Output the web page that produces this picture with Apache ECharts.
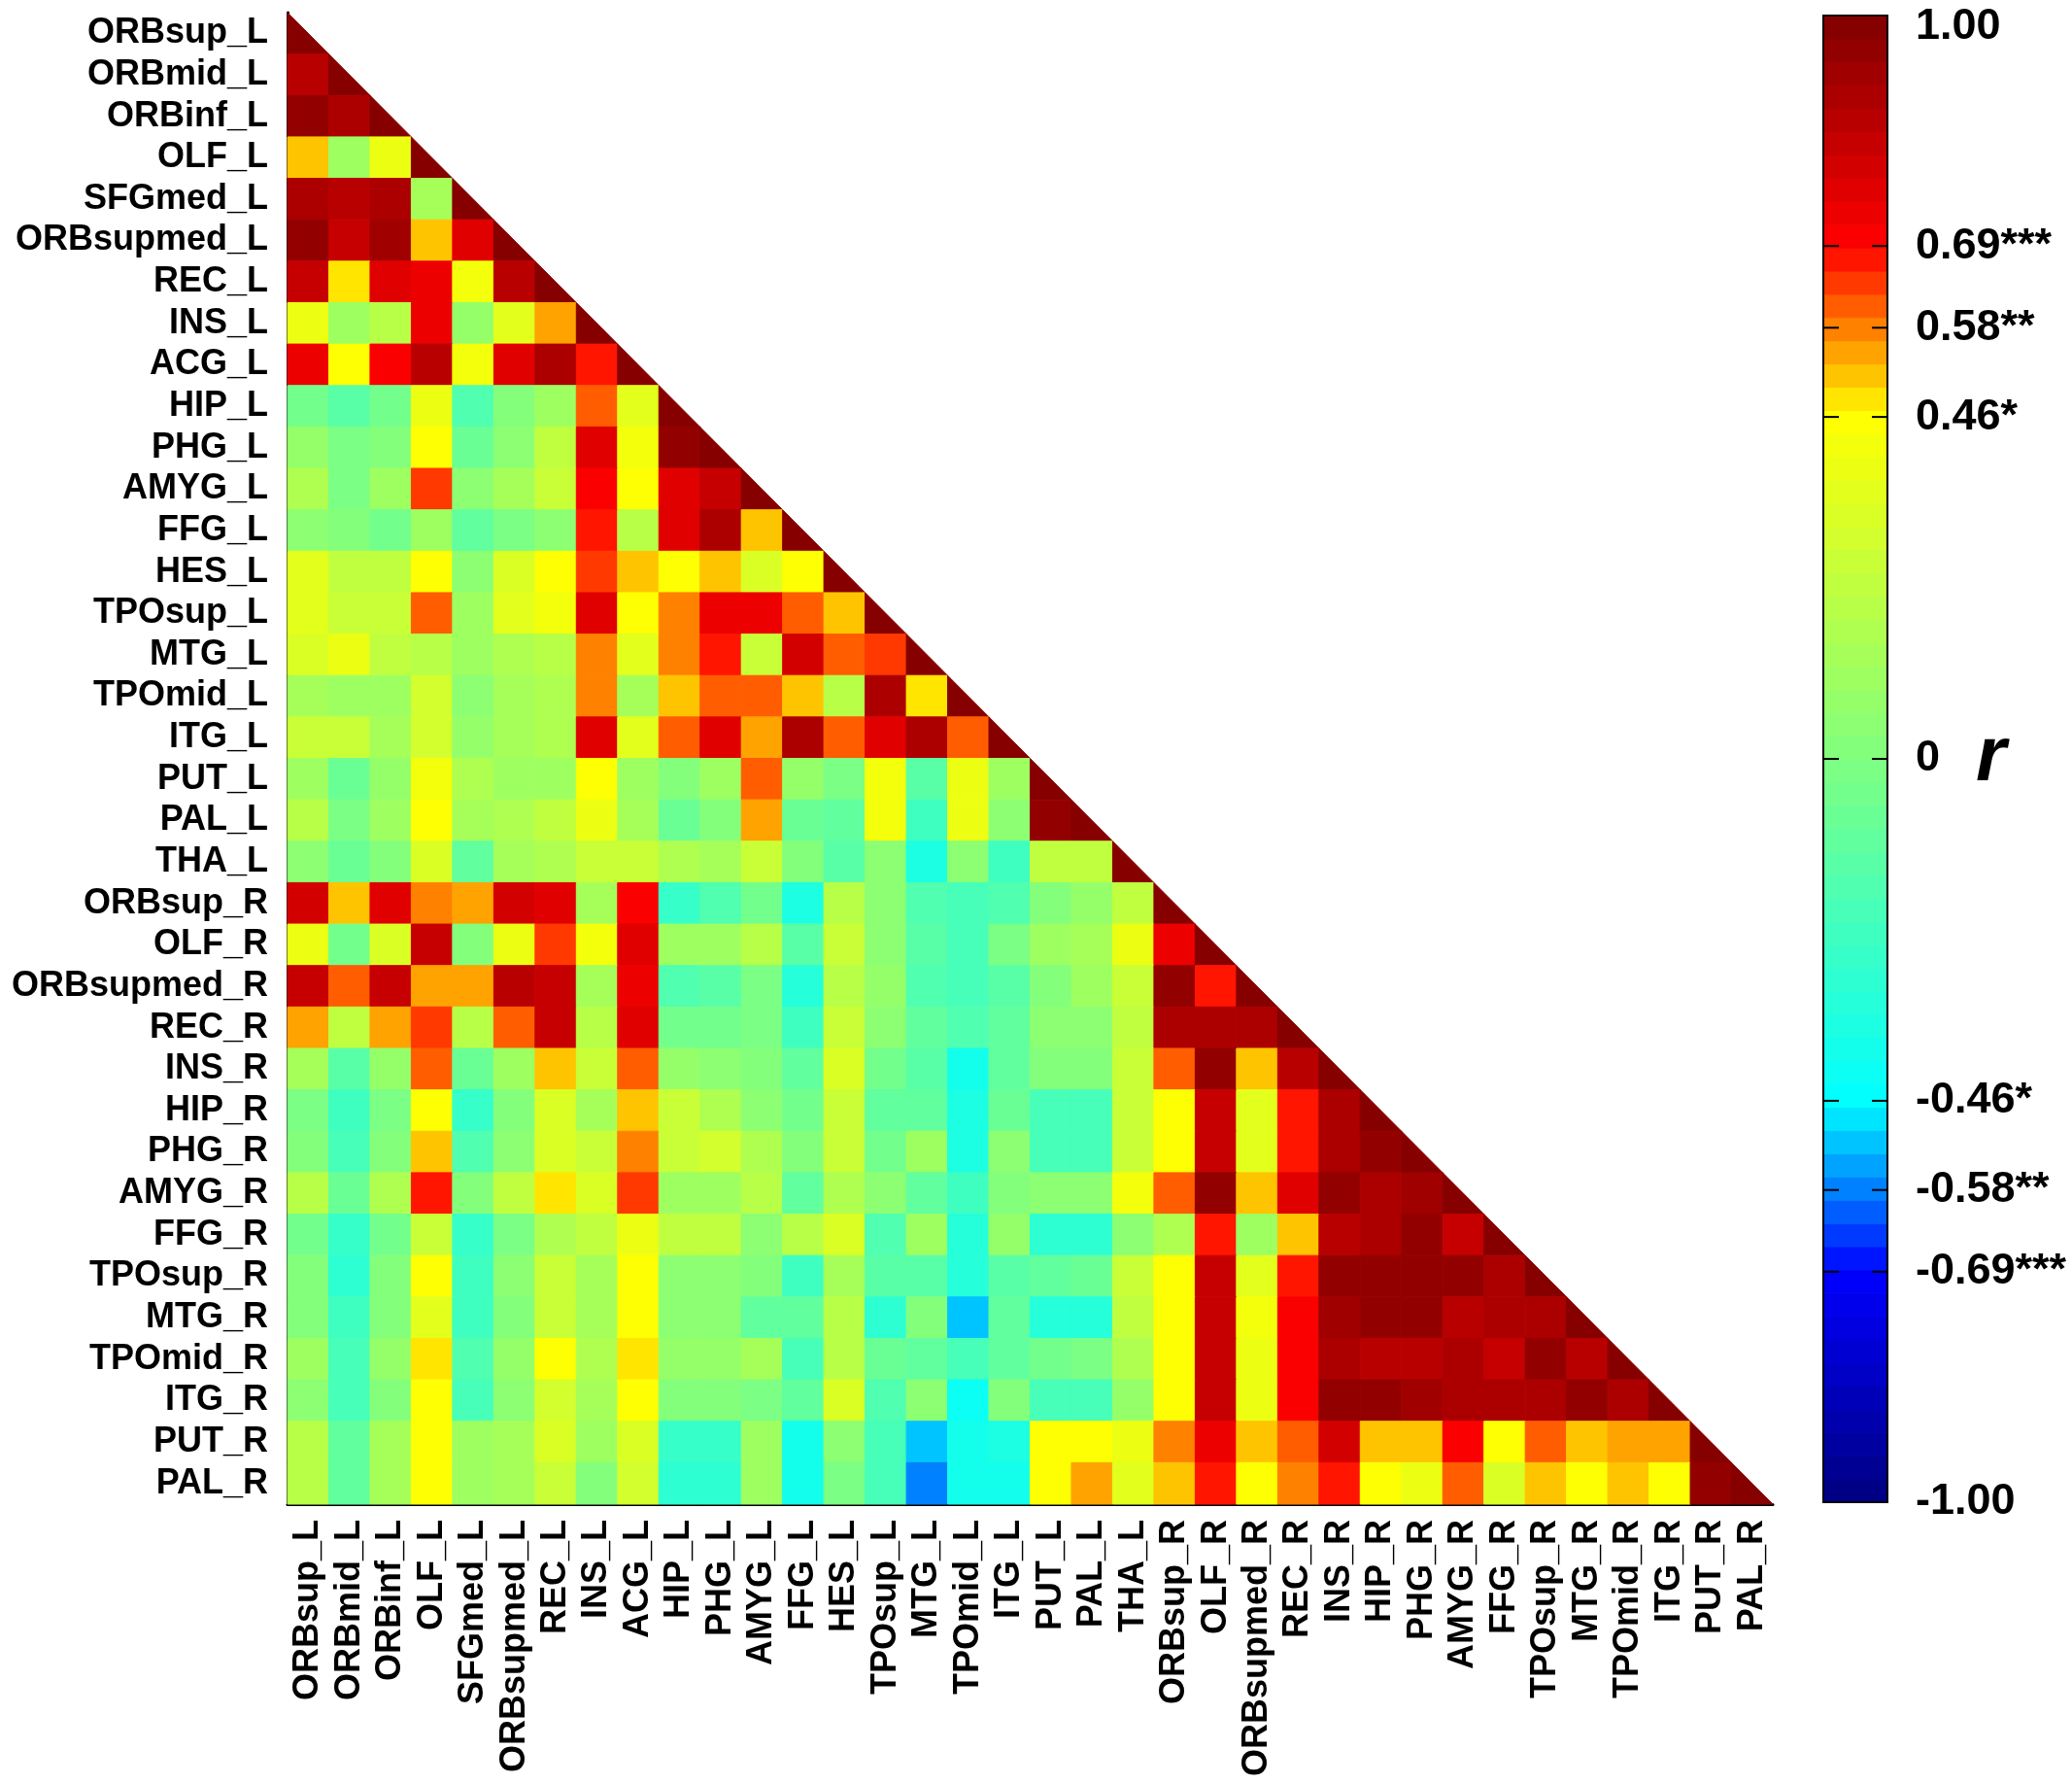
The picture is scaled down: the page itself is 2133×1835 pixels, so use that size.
<!DOCTYPE html>
<html lang="en">
<head>
    <meta charset="UTF-8">
    <title>Correlation matrix</title>
    <script type="text/javascript" src="https://cdn.jsdelivr.net/npm/echarts@6.0.0/dist/echarts.min.js"></script>
    <style>
        html, body { margin: 0; padding: 0; background: #fff; }
        #main { width: 2133px; height: 1835px; }
    </style>
</head>
<body>
<div id="main"></div>
<script type="text/javascript">
    // region names (rows top->bottom, columns left->right)
    var regions = ['ORBsup_L', 'ORBmid_L', 'ORBinf_L', 'OLF_L', 'SFGmed_L', 'ORBsupmed_L', 'REC_L', 'INS_L',
        'ACG_L', 'HIP_L', 'PHG_L', 'AMYG_L', 'FFG_L', 'HES_L', 'TPOsup_L', 'MTG_L', 'TPOmid_L', 'ITG_L',
        'PUT_L', 'PAL_L', 'THA_L', 'ORBsup_R', 'OLF_R', 'ORBsupmed_R', 'REC_R', 'INS_R', 'HIP_R', 'PHG_R',
        'AMYG_R', 'FFG_R', 'TPOsup_R', 'MTG_R', 'TPOmid_R', 'ITG_R', 'PUT_R', 'PAL_R'];

    // lower triangle: r of each row region with the columns before it
    var ORBsup_L = [];
    var ORBmid_L = [0.85];
    var ORBinf_L = [0.95, 0.88];
    var OLF_L = [0.50, 0.12, 0.38];
    var SFGmed_L = [0.88, 0.86, 0.89, 0.15];
    var ORBsupmed_L = [0.95, 0.82, 0.92, 0.50, 0.78];
    var REC_L = [0.82, 0.49, 0.78, 0.73, 0.42, 0.85];
    var INS_L = [0.40, 0.12, 0.20, 0.73, 0.09, 0.37, 0.54];
    var ACG_L = [0.74, 0.44, 0.70, 0.86, 0.42, 0.78, 0.89, 0.66];
    var HIP_L = [-0.06, -0.14, -0.06, 0.40, -0.17, 0.00, 0.12, 0.62, 0.37];
    var PHG_L = [0.08, -0.03, 0.00, 0.46, -0.08, 0.06, 0.23, 0.78, 0.42, 0.94];
    var AMYG_L = [0.18, -0.03, 0.12, 0.65, 0.05, 0.14, 0.25, 0.70, 0.44, 0.75, 0.82];
    var FFG_L = [0.05, 0.00, -0.06, 0.12, -0.12, -0.03, 0.05, 0.67, 0.20, 0.76, 0.88, 0.53];
    var HES_L = [0.37, 0.23, 0.23, 0.46, 0.05, 0.33, 0.44, 0.63, 0.50, 0.46, 0.50, 0.33, 0.46];
    var TPOsup_L = [0.37, 0.27, 0.27, 0.60, 0.12, 0.37, 0.42, 0.78, 0.46, 0.57, 0.72, 0.72, 0.60, 0.50];
    var MTG_L = [0.33, 0.40, 0.23, 0.20, 0.12, 0.18, 0.20, 0.57, 0.37, 0.57, 0.67, 0.27, 0.80, 0.60, 0.65];
    var TPOmid_L = [0.14, 0.12, 0.12, 0.30, 0.05, 0.14, 0.18, 0.57, 0.14, 0.53, 0.60, 0.62, 0.53, 0.20, 0.89, 0.49];
    var ITG_L = [0.27, 0.27, 0.14, 0.30, 0.08, 0.14, 0.18, 0.78, 0.37, 0.62, 0.78, 0.54, 0.89, 0.62, 0.76, 0.90, 0.62];
    var PUT_L = [0.12, -0.08, 0.08, 0.42, 0.18, 0.12, 0.12, 0.46, 0.12, 0.03, 0.12, 0.60, 0.08, -0.01, 0.42, -0.14,
        0.40, 0.12];
    var PAL_L = [0.20, -0.03, 0.12, 0.44, 0.14, 0.18, 0.23, 0.40, 0.14, -0.08, 0.03, 0.54, -0.08, -0.12, 0.42, -0.23,
        0.40, 0.05, 0.95];
    var THA_L = [0.05, -0.08, 0.00, 0.33, -0.12, 0.14, 0.18, 0.27, 0.27, 0.18, 0.14, 0.27, 0.00, -0.14, 0.05, -0.37,
        0.05, -0.23, 0.23, 0.23];
    var ORBsup_R = [0.80, 0.50, 0.78, 0.57, 0.54, 0.80, 0.78, 0.14, 0.70, -0.27, -0.17, -0.06, -0.37, 0.20, 0.05,
        -0.17, -0.20, -0.17, 0.00, 0.08, 0.23];
    var OLF_R = [0.40, -0.06, 0.33, 0.82, 0.03, 0.40, 0.63, 0.42, 0.78, 0.12, 0.12, 0.20, -0.14, 0.27, 0.05, -0.14,
        -0.20, -0.03, 0.12, 0.14, 0.40, 0.74];
    var ORBsupmed_R = [0.82, 0.60, 0.82, 0.54, 0.56, 0.87, 0.82, 0.14, 0.74, -0.17, -0.14, -0.03, -0.33, 0.20, 0.08,
        -0.17, -0.20, -0.14, 0.00, 0.12, 0.27, 0.95, 0.66];
    var REC_R = [0.54, 0.23, 0.54, 0.63, 0.20, 0.61, 0.82, 0.20, 0.78, -0.06, -0.06, -0.03, -0.23, 0.27, 0.05, -0.12,
        -0.17, -0.12, 0.05, 0.05, 0.23, 0.90, 0.89, 0.89];
    var INS_R = [0.14, -0.14, 0.08, 0.61, -0.08, 0.12, 0.50, 0.27, 0.61, 0.08, 0.05, 0.03, -0.12, 0.33, -0.06, -0.14,
        -0.40, -0.12, 0.00, 0.00, 0.27, 0.61, 0.95, 0.53, 0.87];
    var HIP_R = [-0.03, -0.23, -0.03, 0.46, -0.27, 0.03, 0.33, 0.14, 0.50, 0.27, 0.18, 0.05, -0.06, 0.27, -0.12,
        -0.12, -0.37, -0.08, -0.20, -0.20, 0.27, 0.44, 0.82, 0.37, 0.66, 0.90];
    var PHG_R = [0.00, -0.20, 0.00, 0.50, -0.17, 0.05, 0.33, 0.27, 0.57, 0.27, 0.30, 0.18, 0.03, 0.27, -0.06, 0.12,
        -0.37, 0.05, -0.20, -0.20, 0.27, 0.44, 0.84, 0.37, 0.66, 0.90, 0.95];
    var AMYG_R = [0.20, -0.08, 0.18, 0.66, 0.00, 0.23, 0.49, 0.33, 0.63, 0.12, 0.12, 0.20, -0.12, 0.18, 0.05, -0.12,
        -0.23, 0.03, 0.05, 0.05, 0.42, 0.61, 0.94, 0.50, 0.76, 0.95, 0.90, 0.92];
    var FFG_R = [-0.06, -0.27, -0.06, 0.27, -0.27, -0.03, 0.18, 0.23, 0.40, 0.23, 0.23, 0.05, 0.20, 0.33, -0.17,
        0.12, -0.33, 0.08, -0.30, -0.30, 0.05, 0.18, 0.66, 0.12, 0.50, 0.86, 0.90, 0.95, 0.82];
    var TPOsup_R = [0.00, -0.30, 0.03, 0.44, -0.23, 0.05, 0.27, 0.14, 0.44, 0.05, 0.05, 0.00, -0.23, 0.14, -0.14,
        -0.14, -0.33, -0.14, -0.12, -0.08, 0.27, 0.44, 0.82, 0.37, 0.66, 0.94, 0.94, 0.94, 0.94, 0.89];
    var MTG_R = [0.00, -0.23, 0.03, 0.37, -0.23, 0.03, 0.27, 0.14, 0.44, 0.05, 0.05, -0.12, -0.12, 0.20, -0.30, 0.03,
        -0.53, -0.12, -0.33, -0.33, 0.23, 0.46, 0.82, 0.42, 0.70, 0.92, 0.96, 0.95, 0.87, 0.90, 0.90];
    var TPOmid_R = [0.12, -0.20, 0.08, 0.49, -0.17, 0.08, 0.44, 0.18, 0.49, 0.08, 0.08, 0.14, -0.20, 0.20, -0.08,
        -0.12, -0.20, -0.12, -0.06, -0.03, 0.18, 0.46, 0.82, 0.40, 0.70, 0.90, 0.87, 0.87, 0.89, 0.82, 0.95, 0.85];
    var ITG_R = [0.05, -0.20, 0.03, 0.44, -0.20, 0.05, 0.30, 0.14, 0.46, 0.03, 0.03, -0.03, -0.12, 0.33, -0.17, 0.05,
        -0.42, 0.00, -0.20, -0.20, 0.08, 0.46, 0.82, 0.40, 0.70, 0.94, 0.94, 0.92, 0.89, 0.89, 0.89, 0.95, 0.89];
    var PUT_R = [0.20, -0.12, 0.14, 0.44, 0.12, 0.14, 0.33, 0.12, 0.33, -0.27, -0.27, 0.12, -0.38, 0.05, -0.20, -0.52,
        -0.40, -0.37, 0.44, 0.46, 0.40, 0.58, 0.74, 0.51, 0.60, 0.80, 0.53, 0.51, 0.70, 0.44, 0.60, 0.53, 0.56, 0.56];
    var PAL_R = [0.20, -0.12, 0.14, 0.44, 0.12, 0.14, 0.27, 0.03, 0.30, -0.30, -0.30, 0.12, -0.40, -0.03, -0.20, -0.58,
        -0.40, -0.40, 0.46, 0.54, 0.37, 0.53, 0.66, 0.46, 0.57, 0.66, 0.46, 0.40, 0.62, 0.33, 0.53, 0.44, 0.50, 0.46,
        0.95];
    var diagonalValue = 1;

    // colour bar ticks and labels
    var cbTickValues = [-1, -0.69, -0.58, -0.46, 0, 0.46, 0.58, 0.69, 1];
    var cbTickTexts = ['-1.00', '-0.69***', '-0.58**', '-0.46*', '0', '0.46*', '0.58**', '0.69***', '1.00'];
    var cbInnerTicks = [-0.69, -0.58, -0.46, 0, 0.46, 0.58, 0.69];
    var cbSteps = 64;

    var lowerRows = [ORBsup_L, ORBmid_L, ORBinf_L, OLF_L, SFGmed_L, ORBsupmed_L, REC_L, INS_L, ACG_L, HIP_L, PHG_L,
        AMYG_L, FFG_L, HES_L, TPOsup_L, MTG_L, TPOmid_L, ITG_L, PUT_L, PAL_L, THA_L, ORBsup_R, OLF_R, ORBsupmed_R,
        REC_R, INS_R, HIP_R, PHG_R, AMYG_R, FFG_R, TPOsup_R, MTG_R, TPOmid_R, ITG_R, PUT_R, PAL_R];

    // jet colormap, stretched so the significance levels fall on its key colours
    var jetStops = [0, 0.125, 0.25, 0.375, 0.5, 0.625, 0.75, 0.875, 1];
    function toJet(v) {
        for (var i = 1; i < cbTickValues.length; i++) {
            if (v <= cbTickValues[i]) {
                var f = (v - cbTickValues[i - 1]) / (cbTickValues[i] - cbTickValues[i - 1]);
                return jetStops[i - 1] + f * (jetStops[i] - jetStops[i - 1]);
            }
        }
        return 1;
    }
    function clamp(x) { return Math.max(0, Math.min(1, x)); }
    function rColor(v) {
        var k = Math.min(cbSteps - 1, Math.max(0, Math.floor((v + 1) / 2 * cbSteps)));
        var t = toJet(-1 + (k + 0.5) * 2 / cbSteps);
        var r = clamp(1.5 - Math.abs(4 * t - 3));
        var g = clamp(1.5 - Math.abs(4 * t - 2));
        var b = clamp(1.5 - Math.abs(4 * t - 1));
        return 'rgb(' + Math.round(r * 255) + ',' + Math.round(g * 255) + ',' + Math.round(b * 255) + ')';
    }

    var cells = [];
    lowerRows.forEach(function (vals, r) {
        vals.forEach(function (v, c) {
            cells.push([c, r, v]);
        });
        cells.push([r, r, diagonalValue]);
    });

    var cbBands = [];
    for (var k = 0; k < cbSteps; k++) {
        cbBands.push([-1 + k * 2 / cbSteps, -1 + (k + 1) * 2 / cbSteps]);
    }

    var font = "'Liberation Sans', Arial, sans-serif";

    var chart = echarts.init(document.getElementById('main'));
    var option = {
        animation: false,
        backgroundColor: '#fff',
        grid: [
            {left: 296, top: 13, width: 1529, height: 1535},
            {left: 1877, top: 16, width: 66, height: 1530, show: true, borderColor: '#000', borderWidth: 2, z: 5}
        ],
        xAxis: [
            {
                type: 'category', gridIndex: 0, data: regions,
                axisLine: {lineStyle: {color: '#000', width: 3}},
                axisTick: {show: false},
                axisLabel: {rotate: 90, margin: 16, interval: 0, color: '#000', fontSize: 36,
                    fontWeight: 'bold', fontFamily: font},
                splitLine: {show: false}
            },
            {type: 'value', gridIndex: 1, min: 0, max: 1, show: false}
        ],
        yAxis: [
            {
                type: 'category', gridIndex: 0, data: regions, inverse: true,
                axisLine: {lineStyle: {color: '#000', width: 3}},
                axisTick: {show: false},
                axisLabel: {margin: 20, interval: 0, color: '#000', fontSize: 36, fontWeight: 'bold',
                    fontFamily: font},
                splitLine: {show: false}
            },
            {
                type: 'value', gridIndex: 1, position: 'right', min: -1, max: 1,
                axisLine: {show: false},
                axisTick: {show: false},
                axisLabel: {
                    customValues: cbTickValues, margin: 29, color: '#000', fontSize: 45, fontWeight: 'bold',
                    fontFamily: font, lineHeight: 24,
                    verticalAlignMaxLabel: 'top', verticalAlignMinLabel: 'middle',
                    formatter: function (val) {
                        for (var i = 0; i < cbTickValues.length; i++) {
                            if (Math.abs(cbTickValues[i] - val) < 1e-6) return cbTickTexts[i];
                        }
                        return '';
                    }
                },
                splitLine: {show: false},
                name: 'r', nameLocation: 'middle', nameRotate: 0, nameGap: 91, nameMoveOverlap: false,
                nameTextStyle: {color: '#000', fontSize: 80, fontStyle: 'italic', fontWeight: 'bold',
                    fontFamily: font, align: 'left'}
            }
        ],
        series: [
            {
                type: 'custom',
                xAxisIndex: 0,
                yAxisIndex: 0,
                data: cells,
                renderItem: function (params, api) {
                    var c = api.value(0), r = api.value(1), v = api.value(2);
                    var p = api.coord([c, r]);
                    var s = api.size([1, 1]);
                    var x0 = p[0] - s[0] / 2, y0 = p[1] - s[1] / 2;
                    var col = rColor(v);
                    var style = {fill: col, stroke: col, lineWidth: 1};
                    if (c === r) {
                        return {
                            type: 'polygon',
                            shape: {points: [[x0, y0], [x0, y0 + s[1]], [x0 + s[0], y0 + s[1]]]},
                            style: style
                        };
                    }
                    return {type: 'rect', shape: {x: x0, y: y0, width: s[0], height: s[1]}, style: style};
                }
            },
            {
                type: 'custom',
                xAxisIndex: 1,
                yAxisIndex: 1,
                data: cbBands,
                renderItem: function (params, api) {
                    var lo = api.value(0), hi = api.value(1);
                    var a = api.coord([0, hi]);
                    var b = api.coord([1, lo]);
                    var col = rColor((lo + hi) / 2);
                    return {
                        type: 'rect',
                        shape: {x: a[0], y: a[1], width: b[0] - a[0], height: b[1] - a[1]},
                        style: {fill: col, stroke: col, lineWidth: 1}
                    };
                }
            },
            {
                // inward tick marks on both edges of the colour bar
                type: 'custom',
                xAxisIndex: 1,
                yAxisIndex: 1,
                z: 10,
                data: cbInnerTicks.map(function (v) { return [v]; }),
                renderItem: function (params, api) {
                    var v = api.value(0);
                    var l = api.coord([0, v]);
                    var r = api.coord([1, v]);
                    var len = 16;
                    var ls = {stroke: '#000', lineWidth: 2};
                    return {
                        type: 'group',
                        children: [
                            {type: 'line', shape: {x1: l[0], y1: l[1], x2: l[0] + len, y2: l[1]}, style: ls},
                            {type: 'line', shape: {x1: r[0] - len, y1: r[1], x2: r[0], y2: r[1]}, style: ls}
                        ]
                    };
                }
            }
        ]
    };
    chart.setOption(option);
</script>
</body>
</html>
